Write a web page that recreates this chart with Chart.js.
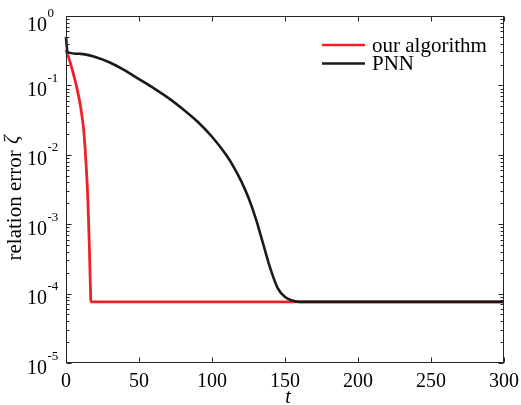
<!DOCTYPE html>
<html>
<head>
<meta charset="utf-8">
<script src="https://cdn.jsdelivr.net/npm/chart.js@4"></script>
<style>
	html, body { margin: 0; padding: 0; background: #fff; }
	#wrap { width: 521px; height: 405px; position: relative; }
</style>
</head>
<body>
<div id="wrap"><canvas id="errChart"></canvas></div>
<script>
// values (t, relation error)
const ourT   = [ 0, 2, 4, 6, 8, 10, 11, 12, 13, 14, 15, 16, 16.9, 17.1, 50, 100, 150, 200, 250, 300 ];
const ourErr = [ 0.324, 0.245, 0.178, 0.123, 0.0813, 0.049, 0.0355, 0.024, 0.0132, 0.00603, 0.00219,
	0.000479, 0.0000891, 0.000076, 0.000076, 0.000076, 0.000076, 0.000076, 0.000076, 0.000076 ];

const pnnT   = [ 0, 1, 10, 20, 30, 40, 50, 60, 70, 80, 90, 100, 110, 115, 120, 125, 130, 135, 140,
	145, 150, 155, 160, 165, 200, 250, 300 ];
const pnnErr = [ 0.5, 0.302, 0.285, 0.257, 0.214, 0.166, 0.123, 0.0912, 0.0661, 0.0457, 0.0302,
	0.0182, 0.00977, 0.00661, 0.00417, 0.0024, 0.0012, 0.000525, 0.000229, 0.00012, 0.0000891,
	0.0000794, 0.0000759, 0.000076, 0.000076, 0.000076, 0.000076 ];

const xTicks = [ 0, 50, 100, 150, 200, 250, 300 ];
const yExps  = [ 0, -1, -2, -3, -4, -5 ];
const seriesNames = [ 'our algorithm', 'PNN' ];

const SERIF = '"Liberation Serif", "Times New Roman", serif';
const AXIS_COLOR = '#262626';

function toPoints( xs, ys ) {
	return xs.map( ( x, i ) => ( { x, y: ys[ i ] } ) );
}

// MATLAB-like box, inward ticks, labels and legend
const matlabAxes = {
	id: 'matlabAxes',
	afterDraw( chart ) {
		const { ctx, chartArea: a, scales } = chart;
		const xs = scales.x, ys = scales.y;
		const L = Math.round( a.left ) + 0.5, R = Math.round( a.right ) - 0.5;
		const T = Math.round( a.top ) + 0.5, B = Math.round( a.bottom ) - 0.5;

		ctx.save();
		ctx.strokeStyle = AXIS_COLOR;
		ctx.lineWidth = 1;
		ctx.strokeRect( L, T, R - L, B - T );

		ctx.beginPath();
		xTicks.forEach( v => {
			const px = Math.round( xs.getPixelForValue( v ) ) + 0.5;
			ctx.moveTo( px, B ); ctx.lineTo( px, B - 5 );
			ctx.moveTo( px, T ); ctx.lineTo( px, T + 5 );
		} );
		yExps.forEach( e => {
			const py = Math.round( ys.getPixelForValue( Math.pow( 10, e ) ) ) + 0.5;
			ctx.moveTo( L, py ); ctx.lineTo( L + 5, py );
			ctx.moveTo( R, py ); ctx.lineTo( R - 5, py );
			if ( e > -5 ) {
				for ( let k = 2; k <= 9; k++ ) {
					const my = Math.round( ys.getPixelForValue( k * Math.pow( 10, e - 1 ) ) ) + 0.5;
					ctx.moveTo( L, my ); ctx.lineTo( L + 3, my );
					ctx.moveTo( R, my ); ctx.lineTo( R - 3, my );
				}
			}
		} );
		ctx.stroke();

		// tick labels
		ctx.fillStyle = '#000';
		ctx.font = '20px ' + SERIF;
		ctx.textAlign = 'center';
		ctx.textBaseline = 'alphabetic';
		xTicks.forEach( v => {
			ctx.fillText( String( v ), xs.getPixelForValue( v ), a.bottom + 24 );
		} );

		yExps.forEach( e => {
			const py = ys.getPixelForValue( Math.pow( 10, e ) );
			const base = Math.max( py + 10.5, 31 );
			ctx.font = '20px ' + SERIF;
			ctx.textAlign = 'right';
			ctx.fillText( '10', a.left - 19, base );
			ctx.font = '13px ' + SERIF;
			ctx.textAlign = 'left';
			ctx.fillText( e === 0 ? '0' : '-' + Math.abs( e ), a.left - 18.5, base - 14 );
		} );

		// axis titles
		ctx.font = 'italic 20px ' + SERIF;
		ctx.textAlign = 'center';
		ctx.fillText( 't', ( a.left + a.right ) / 2 + 3, 403 );

		ctx.save();
		ctx.translate( 21, ( a.top + a.bottom ) / 2 + 9 );
		ctx.rotate( -Math.PI / 2 );
		ctx.font = '21px ' + SERIF;
		const main = 'relation error ';
		const wMain = ctx.measureText( main ).width;
		ctx.font = 'italic 21px ' + SERIF;
		const wZeta = ctx.measureText( 'ζ' ).width;
		const start = -( wMain + wZeta ) / 2;
		ctx.textAlign = 'left';
		ctx.font = '21px ' + SERIF;
		ctx.fillText( main, start, 0 );
		ctx.font = 'italic 21px ' + SERIF;
		ctx.fillText( 'ζ', start + wMain + 1, -3 );
		ctx.restore();

		// legend
		ctx.font = '21px ' + SERIF;
		ctx.textAlign = 'left';
		chart.data.datasets.forEach( ( ds, i ) => {
			const ly = 45 + i * 18.5;
			ctx.strokeStyle = ds.borderColor;
			ctx.lineWidth = 2.6;
			ctx.beginPath();
			ctx.moveTo( 322, ly );
			ctx.lineTo( 365, ly );
			ctx.stroke();
			ctx.fillStyle = '#000';
			ctx.fillText( ds.label, 372, ly + 6.5 );
		} );
		ctx.restore();
	},
};

new Chart( document.getElementById( 'errChart' ), {
	type: 'line',
	data: {
		datasets: [
			{
				label: seriesNames[ 0 ],
				data: toPoints( ourT, ourErr ),
				borderColor: '#ee2226',
				borderWidth: 2.8,
				pointRadius: 0,
				cubicInterpolationMode: 'monotone',
				order: 2,
				clip: false,
			},
			{
				label: seriesNames[ 1 ],
				data: toPoints( pnnT, pnnErr ),
				borderColor: '#1a1a1a',
				borderWidth: 2.6,
				pointRadius: 0,
				cubicInterpolationMode: 'monotone',
				order: 1,
				clip: false,
			},
		],
	},
	options: {
		responsive: true,
		maintainAspectRatio: false,
		animation: false,
		layout: { padding: { left: 66, top: 16, right: 17, bottom: 42 } },
		plugins: {
			legend: { display: false },
			tooltip: { enabled: false },
		},
		scales: {
			x: { type: 'linear', min: 0, max: 300, display: false },
			y: { type: 'logarithmic', min: 1e-5, max: 1, display: false },
		},
	},
	plugins: [ matlabAxes ],
} );
</script>
</body>
</html>
